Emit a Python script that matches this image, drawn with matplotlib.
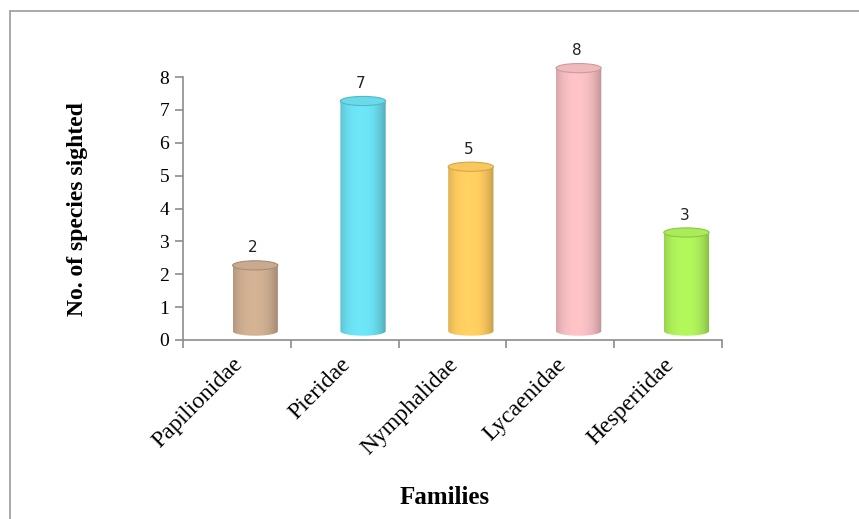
import numpy as np
import matplotlib
matplotlib.use("Agg")
import matplotlib.pyplot as plt
import matplotlib.transforms as mtransforms
from matplotlib.path import Path
from matplotlib.patches import PathPatch, Ellipse, Rectangle
from matplotlib.colors import to_rgb

families = ["Papilionidae", "Pieridae", "Nymphalidae", "Lycaenidae", "Hesperiidae"]
species = [2, 7, 5, 8, 3]
colors = ["#C6A688", "#62D8EA", "#F8C456", "#EFB6BA", "#A6EA50"]
y_ticks = [0, 1, 2, 3, 4, 5, 6, 7, 8]

W, H = 859, 519
fig = plt.figure(figsize=(W / 100, H / 100), dpi=100)
fig.patch.set_facecolor("white")

# outer frame
fig.patches.append(Rectangle((10 / W, -0.1), 1.2, 1.1 - 11 / H, transform=fig.transFigure,
                             fill=False, edgecolor="#999999", linewidth=1.2))

x0, x1, yb_px, yt_px = 183, 722, 340, 77
ax = fig.add_axes([x0 / W, 1 - yb_px / H, (x1 - x0) / W, (yb_px - yt_px) / H])
ax.set_xlim(-0.5, len(families) - 0.5)
ax.set_ylim(0, 8)

# overlay axes for the cylinders, same scale but taller so nothing is clipped
ymax2 = 9.5
ax2 = fig.add_axes([x0 / W, 1 - yb_px / H, (x1 - x0) / W, (yb_px - yt_px) * ymax2 / 8 / H])
ax2.set_xlim(-0.5, len(families) - 0.5)
ax2.set_ylim(0, ymax2)
ax2.axis("off")

serif = ["Liberation Serif", "DejaVu Serif"]

dx = 0.17      # depth offset (x, in category units)
dy = 0.27      # depth offset (y, in data units)
bw = 0.21      # half width
eh = 0.14      # ellipse half-height

def shade_strip(rgb, n=200):
    t = np.linspace(-1, 1, n)
    f = 0.80 + 0.22 * (1 - np.abs(t + 0.1) ** 2.5)
    arr = np.clip(np.outer(f, rgb) + 0.04, 0, 1)
    return arr[np.newaxis, :, :]

for i, (v, c) in enumerate(zip(species, colors)):
    rgb = np.array(to_rgb(c))
    cx = i + dx
    yb = dy
    yt = v + dy
    tt = np.linspace(np.pi, 2 * np.pi, 60)
    verts = [(cx - bw, yt)]
    verts += [(cx + bw * np.cos(t), yb + eh * np.sin(t)) for t in tt]
    verts += [(cx + bw, yt), (cx - bw, yt)]
    codes = [Path.MOVETO] + [Path.LINETO] * (len(verts) - 2) + [Path.CLOSEPOLY]
    path = Path(verts, codes)
    patch = PathPatch(path, facecolor="none", edgecolor="none")
    ax2.add_patch(patch)
    im = ax2.imshow(shade_strip(rgb), extent=[cx - bw, cx + bw, yb - eh, yt],
                    aspect="auto", interpolation="bilinear", zorder=2)
    im.set_clip_path(patch)
    top_rgb = np.clip(rgb * 0.95 + 0.05, 0, 1)
    ax2.add_patch(Ellipse((cx, yt), 2 * bw, 2 * eh, facecolor=top_rgb,
                          edgecolor=np.clip(rgb * 0.85, 0, 1), linewidth=0.8, zorder=3))
    ax2.text(i + 0.15, v + 0.8, str(v), ha="center", va="center",
             fontsize=11, color="#222222", family="DejaVu Sans")

ax2.set_xlim(-0.5, len(families) - 0.5)
ax2.set_ylim(0, ymax2)

for s in ["top", "right"]:
    ax.spines[s].set_visible(False)
for s in ["left", "bottom"]:
    ax.spines[s].set_color("#8c8c8c")
    ax.spines[s].set_linewidth(1.2)

ax.set_yticks(y_ticks)
ax.set_yticklabels([str(t) for t in y_ticks], family=serif, fontsize=14)
ax.tick_params(axis="y", length=6, color="#8c8c8c", width=1.2, pad=4)

ax.set_xticks(np.arange(-0.5, len(families), 1.0))
ax.set_xticklabels([])
ax.tick_params(axis="x", which="major", length=6, color="#8c8c8c", width=1.2)
ax.set_xticks(np.arange(len(families)), minor=True)
ax.set_xticklabels(families, minor=True, rotation=45, ha="right", rotation_mode="anchor",
                   family=serif, fontsize=17)
ax.tick_params(axis="x", which="minor", length=0, pad=10)
shift = mtransforms.ScaledTranslation(-5 / 100, 0, fig.dpi_scale_trans)
for lbl in ax.get_xticklabels(minor=True):
    lbl.set_transform(lbl.get_transform() + shift)
ax.set_facecolor("none")

fig.text(77 / W, 1 - 209 / H, "No. of species sighted", rotation=90, ha="center", va="center",
         family=serif, fontsize=17, fontweight="bold")
fig.text(445 / W, 1 - 497 / H, "Families", ha="center", va="center",
         family=serif, fontsize=18, fontweight="bold")

fig.savefig("out.png", dpi=100)
